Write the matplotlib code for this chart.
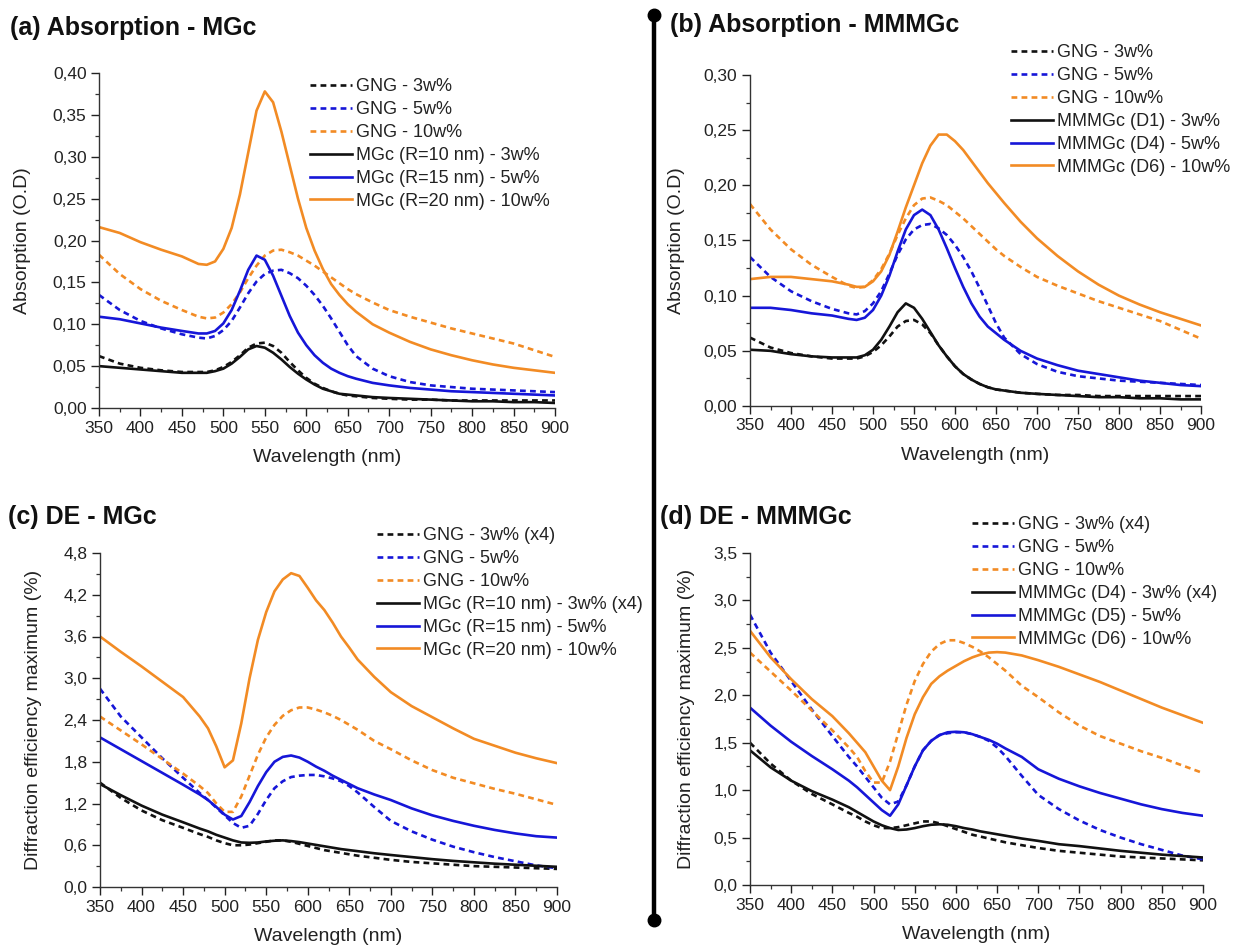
import numpy as np
import matplotlib
matplotlib.use('Agg')
import matplotlib.pyplot as plt
from matplotlib.lines import Line2D
from matplotlib.ticker import MultipleLocator, FuncFormatter

plt.rcParams['font.family'] = ['Liberation Sans', 'DejaVu Sans']

# wavelength grid (nm)
wl = [350, 375, 400, 425, 450, 470, 480, 490, 500, 510, 520, 530, 540, 550, 560, 570, 580, 590,
      600, 610, 620, 630, 640, 650, 660, 680, 700, 725, 750, 775, 800, 825, 850, 875, 900]

# absorption, GNG (shared by a and b)
abs_gng3 = [.062, .053, .048, .045, .043, .043, .043, .045, .049, .055, .063, .072, .077, .078, .074, .066, .055, .045,
            .036, .029, .024, .020, .017, .015, .014, .012, .011, .010, .010, .009, .009, .009, .009, .009, .009]
abs_gng5 = [.135, .117, .104, .095, .088, .084, .083, .086, .093, .104, .120, .137, .151, .160, .164, .165, .161, .155,
            .146, .135, .122, .107, .091, .075, .062, .047, .038, .031, .027, .025, .023, .022, .021, .020, .019]
abs_gng10 = [.183, .160, .142, .128, .117, .109, .107, .108, .114, .124, .138, .155, .170, .182, .188, .189, .186, .182,
             .176, .170, .163, .156, .149, .142, .136, .126, .117, .109, .102, .095, .089, .083, .077, .069, .061]

# absorption, MGc
abs_mgc10 = [.050, .048, .046, .044, .042, .042, .042, .044, .047, .053, .061, .070, .074, .072, .066, .058, .049, .041,
             .034, .028, .023, .020, .017, .016, .015, .013, .012, .011, .010, .009, .008, .008, .007, .007, .006]
abs_mgc15 = [.109, .106, .101, .096, .092, .089, .089, .092, .101, .117, .140, .165, .182, .177, .158, .134, .110, .090,
             .075, .063, .054, .047, .042, .038, .035, .030, .027, .024, .022, .020, .019, .018, .017, .016, .015]
abs_mgc20 = [.216, .209, .198, .189, .181, .172, .171, .175, .190, .215, .255, .305, .355, .378, .365, .330, .290, .250,
             .215, .188, .166, .148, .135, .124, .115, .100, .090, .079, .070, .063, .057, .052, .048, .045, .042]

# absorption, MMMGc
abs_d1 = [.051, .050, .047, .045, .044, .044, .044, .046, .051, .060, .072, .085, .093, .089, .079, .067, .055, .045,
          .036, .029, .024, .020, .017, .015, .014, .012, .011, .010, .009, .008, .008, .007, .007, .006, .006]
abs_d4 = [.089, .089, .087, .084, .082, .079, .078, .080, .087, .100, .118, .140, .160, .173, .178, .173, .160, .143,
          .125, .108, .093, .081, .072, .066, .060, .050, .043, .037, .032, .029, .026, .023, .021, .019, .018]
abs_d6 = [.115, .117, .117, .115, .113, .110, .108, .108, .113, .122, .137, .158, .180, .200, .220, .236, .246, .246,
          .240, .232, .222, .212, .202, .193, .184, .167, .152, .136, .122, .110, .100, .092, .085, .079, .073]

# diffraction efficiency, GNG (shared by c and d)
de_gng3 = [1.50, 1.28, 1.10, 0.96, 0.85, 0.76, 0.72, 0.67, 0.63, 0.60, 0.60, 0.61, 0.63, 0.65, 0.67, 0.67, 0.65, 0.62,
           0.59, 0.56, 0.53, 0.51, 0.49, 0.47, 0.45, 0.42, 0.39, 0.36, 0.34, 0.32, 0.30, 0.29, 0.28, 0.27, 0.26]
de_gng5 = [2.85, 2.45, 2.15, 1.85, 1.57, 1.35, 1.25, 1.14, 1.03, 0.92, 0.85, 0.88, 1.05, 1.25, 1.42, 1.52, 1.58, 1.60,
           1.61, 1.61, 1.59, 1.56, 1.52, 1.45, 1.36, 1.15, 0.95, 0.80, 0.68, 0.58, 0.50, 0.43, 0.37, 0.31, 0.27]
de_gng10 = [2.45, 2.25, 2.05, 1.84, 1.63, 1.45, 1.35, 1.20, 1.08, 1.08, 1.30, 1.60, 1.90, 2.15, 2.33, 2.46, 2.54, 2.58,
            2.58, 2.55, 2.51, 2.46, 2.40, 2.33, 2.26, 2.10, 1.98, 1.82, 1.68, 1.57, 1.49, 1.41, 1.34, 1.26, 1.18]

# diffraction efficiency, MGc
de_mgc10 = [1.48, 1.32, 1.17, 1.04, 0.93, 0.84, 0.80, 0.75, 0.71, 0.67, 0.64, 0.635, 0.64, 0.655, 0.665, 0.67, 0.66, 0.645,
            0.625, 0.605, 0.585, 0.565, 0.545, 0.53, 0.515, 0.485, 0.46, 0.43, 0.40, 0.375, 0.355, 0.335, 0.32, 0.305, 0.29]
de_mgc15 = [2.15, 1.98, 1.81, 1.64, 1.47, 1.33, 1.25, 1.15, 1.04, 0.97, 1.02, 1.22, 1.45, 1.65, 1.80, 1.87, 1.89, 1.86,
            1.80, 1.73, 1.67, 1.60, 1.54, 1.48, 1.42, 1.33, 1.25, 1.13, 1.03, 0.95, 0.88, 0.82, 0.77, 0.73, 0.71]
de_mgc20 = [3.60, 3.38, 3.17, 2.95, 2.73, 2.45, 2.28, 2.02, 1.72, 1.82, 2.35, 3.00, 3.55, 3.95, 4.25, 4.42, 4.51, 4.47,
            4.30, 4.12, 3.98, 3.80, 3.60, 3.44, 3.27, 3.02, 2.80, 2.60, 2.44, 2.28, 2.13, 2.03, 1.93, 1.85, 1.78]

# diffraction efficiency, MMMGc
de_d4 = [1.42, 1.24, 1.10, 0.99, 0.90, 0.82, 0.77, 0.72, 0.67, 0.63, 0.60, 0.58, 0.585, 0.60, 0.62, 0.635, 0.64, 0.635,
         0.62, 0.60, 0.585, 0.565, 0.55, 0.535, 0.52, 0.49, 0.465, 0.43, 0.41, 0.385, 0.36, 0.34, 0.32, 0.305, 0.29]
de_d5 = [1.87, 1.68, 1.51, 1.36, 1.22, 1.10, 1.03, 0.95, 0.87, 0.79, 0.73, 0.85, 1.05, 1.25, 1.42, 1.52, 1.58, 1.61,
         1.615, 1.61, 1.59, 1.56, 1.53, 1.49, 1.44, 1.35, 1.22, 1.12, 1.04, 0.97, 0.91, 0.85, 0.80, 0.76, 0.73]
de_d6 = [2.68, 2.40, 2.17, 1.96, 1.78, 1.60, 1.50, 1.40, 1.25, 1.10, 1.00, 1.25, 1.55, 1.80, 1.98, 2.12, 2.20, 2.26,
         2.31, 2.36, 2.40, 2.43, 2.45, 2.455, 2.45, 2.42, 2.37, 2.30, 2.22, 2.14, 2.05, 1.96, 1.87, 1.79, 1.71]

BLACK = '#111111'
BLUE = '#1616d8'
ORANGE = '#f28b24'
LW = 1.9
DASH = (0, (2.2, 1.6))

W, H = 1235, 948
fig = plt.figure(figsize=(W / 100, H / 100), dpi=100)


def px_axes(left, right, top, bottom):
    return fig.add_axes([left / W, 1 - bottom / H, (right - left) / W, (bottom - top) / H])


def style(ax, ymax, major, minor, fmt, ylabel, xlab_y, ylab_x):
    ax.set_xlim(350, 900)
    ax.set_ylim(0, ymax)
    ax.spines['top'].set_visible(False)
    ax.spines['right'].set_visible(False)
    for s in ('left', 'bottom'):
        ax.spines[s].set_linewidth(1.0)
        ax.spines[s].set_color('#333333')
    ax.xaxis.set_major_locator(MultipleLocator(50))
    ax.xaxis.set_minor_locator(MultipleLocator(25))
    ax.yaxis.set_major_locator(MultipleLocator(major))
    ax.yaxis.set_minor_locator(MultipleLocator(minor))
    ax.yaxis.set_major_formatter(FuncFormatter(lambda v, p: (fmt % v).replace('.', ',')))
    ax.tick_params(which='major', direction='out', length=6, width=1.0, labelsize=12.5, pad=3, colors='#222222')
    ax.tick_params(which='minor', direction='out', length=3, width=0.9, colors='#333333')
    ax.set_xlabel('Wavelength (nm)', fontsize=14, color='#222222')
    ax.set_ylabel(ylabel, fontsize=14, color='#222222')
    ax.xaxis.set_label_coords(0.5, xlab_y)
    ax.yaxis.set_label_coords(ylab_x, 0.5)


def draw(ax, dashed, solid, labels, legend_xy):
    for y, c, lab in zip(dashed, (BLACK, BLUE, ORANGE), labels[:3]):
        ax.plot(wl, y, color=c, lw=LW, linestyle=DASH, label=lab)
    for y, c, lab in zip(solid, (BLACK, BLUE, ORANGE), labels[3:]):
        ax.plot(wl, y, color=c, lw=LW, label=lab)
    leg = ax.legend(loc='upper left', bbox_to_anchor=(legend_xy[0] / W, 1 - legend_xy[1] / H),
                    bbox_transform=fig.transFigure, frameon=False, fontsize=13,
                    handlelength=2.3, handletextpad=0.25, labelspacing=0.33, borderpad=0, borderaxespad=0)
    for t in leg.get_texts():
        t.set_color('#222222')


# (a)
ax_a = px_axes(99, 555, 73, 408)
style(ax_a, 0.40, 0.05, 0.025, '%.2f', 'Absorption (O.D)', -0.122, -0.149)
draw(ax_a, [abs_gng3, abs_gng5, abs_gng10], [abs_mgc10, abs_mgc15, abs_mgc20],
     ['GNG - 3w%', 'GNG - 5w%', 'GNG - 10w%',
      'MGc (R=10 nm) - 3w%', 'MGc (R=15 nm) - 5w%', 'MGc (R=20 nm) - 10w%'], (310, 78))

# (b)
ax_b = px_axes(750, 1201, 75, 406)
style(ax_b, 0.30, 0.05, 0.025, '%.2f', 'Absorption (O.D)', -0.124, -0.144)
draw(ax_b, [abs_gng3, abs_gng5, abs_gng10], [abs_d1, abs_d4, abs_d6],
     ['GNG - 3w%', 'GNG - 5w%', 'GNG - 10w%',
      'MMMGc (D1) - 3w%', 'MMMGc (D4) - 5w%', 'MMMGc (D6) - 10w%'], (1011, 44))

# (c)
ax_c = px_axes(100, 557, 553, 887)
style(ax_c, 4.8, 0.6, 0.3, '%.1f', 'Diffraction efficiency maximum (%)', -0.123, -0.127)
draw(ax_c, [de_gng3, de_gng5, de_gng10], [de_mgc10, de_mgc15, de_mgc20],
     ['GNG - 3w% (x4)', 'GNG - 5w%', 'GNG - 10w%',
      'MGc (R=10 nm) - 3w% (x4)', 'MGc (R=15 nm) - 5w%', 'MGc (R=20 nm) - 10w%'], (377, 527))

# (d)
ax_d = px_axes(750, 1203, 553, 885)
style(ax_d, 3.5, 0.5, 0.25, '%.1f', 'Diffraction efficiency maximum (%)', -0.124, -0.121)
draw(ax_d, [de_gng3, de_gng5, de_gng10], [de_d4, de_d5, de_d6],
     ['GNG - 3w% (x4)', 'GNG - 5w%', 'GNG - 10w%',
      'MMMGc (D4) - 3w% (x4)', 'MMMGc (D5) - 5w%', 'MMMGc (D6) - 10w%'], (972, 516))

# panel titles
for x, y, txt in [(10, 28, '(a) Absorption - MGc'), (670, 25, '(b) Absorption - MMMGc'),
                  (8, 517, '(c) DE - MGc'), (660, 517, '(d) DE - MMMGc')]:
    fig.text(x / W, 1 - y / H, txt, fontsize=18, fontweight='bold', va='center', ha='left', color='#111111')

# vertical divider with end dots
fig.add_artist(Line2D([654 / W, 654 / W], [1 - 15 / H, 1 - 920 / H], transform=fig.transFigure,
                      color='black', lw=3.2, marker='o', markersize=9, solid_capstyle='round'))

fig.savefig('out.png', dpi=100)
